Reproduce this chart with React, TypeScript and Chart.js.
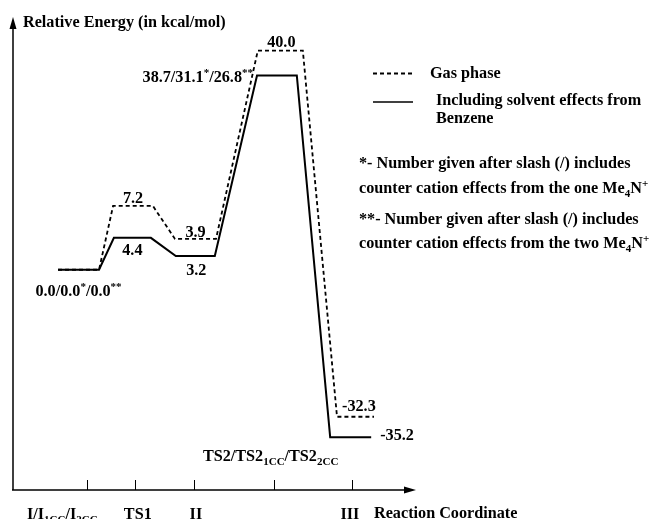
import React, { useEffect, useRef } from "react";
import { Chart, registerables } from "chart.js";
Chart.register(...registerables);

// Stationary points along the reaction coordinate
const stageNames = ["I/I1CC/I2CC", "TS1", "II", "TS2/TS21CC/TS22CC", "III"];
// Labelled relative energies (kcal/mol)
const gasLabels = ["0.0", "7.2", "3.9", "40.0", "-32.3"];
const solventLabels = ["0.0/0.0*/0.0**", "4.4", "3.2", "38.7/31.1*/26.8**", "-35.2"];
// Schematic level heights as drawn (the diagram is not to scale)
const gasLevels = [0, 11.6, 5.6, 39.8, -26.7];
const solventLevels = [0, 5.8, 2.5, 35.3, -30.4];
// Level extents along the reaction coordinate (0-100)
const gasFrom = [11.2, 24.9, 40.3, 60.9, 80.6];
const gasTo = [21.4, 34.8, 50.5, 72.1, 89.8];
const solFrom = [11.2, 25.1, 40.5, 60.7, 78.9];
const solTo = [21.4, 34.3, 50.2, 70.6, 89.1];
// Tick marks on the reaction-coordinate axis
const tickPositions = [18.4, 30.3, 45.0, 64.9, 84.3];

const FONT = '"Liberation Serif", "Times New Roman", serif';
const SIZE = 16.2;

type Part = [string, number]; // 0 normal, 1 subscript, 2 superscript

function rich(ctx: CanvasRenderingContext2D, parts: Part[], x: number, y: number, align: string, size = SIZE) {
  const F = `bold ${size}px ${FONT}`;
  const S = `bold ${Math.round(size * 0.68)}px ${FONT}`;
  let w = 0;
  for (const [t, k] of parts) {
    ctx.font = k ? S : F;
    w += ctx.measureText(t).width;
  }
  let cx = align === "center" ? x - w / 2 : align === "right" ? x - w : x;
  ctx.textAlign = "left";
  ctx.textBaseline = "alphabetic";
  for (const [t, k] of parts) {
    ctx.font = k ? S : F;
    ctx.fillText(t, cx, y + (k === 1 ? 4 : k === 2 ? -6 : 0));
    cx += ctx.measureText(t).width;
  }
}

function levelPoints(from: number[], to: number[], lv: number[]) {
  const pts: { x: number; y: number }[] = [];
  lv.forEach((v, i) => {
    pts.push({ x: from[i], y: v });
    pts.push({ x: to[i], y: v });
  });
  return pts;
}

const overlay = {
  id: "overlay",
  afterDraw(chart: any) {
    const ctx: CanvasRenderingContext2D = chart.ctx;
    const xs = chart.scales.x;
    const ys = chart.scales.y;
    const x0 = xs.getPixelForValue(0);
    const xEnd = xs.getPixelForValue(100);
    const yB = ys.getPixelForValue(-40);
    const yT = ys.getPixelForValue(45);
    ctx.save();
    ctx.strokeStyle = "#000";
    ctx.fillStyle = "#000";
    ctx.setLineDash([]);
    // axes
    ctx.lineWidth = 1.5;
    ctx.beginPath();
    ctx.moveTo(x0, yB);
    ctx.lineTo(x0, yT + 6);
    ctx.moveTo(x0 - 1, yB);
    ctx.lineTo(xEnd - 8, yB);
    ctx.stroke();
    ctx.beginPath();
    ctx.moveTo(x0, yT - 5);
    ctx.lineTo(x0 - 3.5, yT + 7);
    ctx.lineTo(x0 + 3.5, yT + 7);
    ctx.closePath();
    ctx.fill();
    ctx.beginPath();
    ctx.moveTo(xEnd + 1, yB);
    ctx.lineTo(xEnd - 11, yB - 3.5);
    ctx.lineTo(xEnd - 11, yB + 3.5);
    ctx.closePath();
    ctx.fill();
    // ticks
    ctx.lineWidth = 1;
    ctx.beginPath();
    tickPositions.forEach((t) => {
      const px = Math.round(xs.getPixelForValue(t)) + 0.5;
      ctx.moveTo(px, yB - 10);
      ctx.lineTo(px, yB);
    });
    ctx.stroke();

    // axis titles
    rich(ctx, [["Relative Energy (in kcal/mol)", 0]], x0 + 10, 27, "left");
    rich(ctx, [["Reaction Coordinate", 0]], xEnd - 41, 518, "left");

    // stage labels under the axis
    const tp = tickPositions.map((t) => xs.getPixelForValue(t));
    rich(ctx, [["I/I", 0], ["1CC", 1], ["/I", 0], ["2CC", 1]], tp[0] - 60, 519, "left");
    rich(ctx, [[stageNames[1], 0]], tp[1] + 3, 519, "center");
    rich(ctx, [[stageNames[2], 0]], tp[2] + 2, 519, "center");
    rich(ctx, [[stageNames[4], 0]], tp[4] - 2, 519, "center");
    rich(ctx, [["TS2/TS2", 0], ["1CC", 1], ["/TS2", 0], ["2CC", 1]], tp[3] - 71, 461, "left");

    // energy labels
    const cx = (a: number, b: number) => (xs.getPixelForValue(a) + xs.getPixelForValue(b)) / 2;
    const py = (v: number) => ys.getPixelForValue(v);
    rich(ctx, [["0.0/0.0", 0], ["*", 2], ["/0.0", 0], ["**", 2]], cx(solFrom[0], solTo[0]), py(solventLevels[0]) + 26, "center");
    rich(ctx, [[gasLabels[1], 0]], cx(gasFrom[1], gasTo[1]), py(gasLevels[1]) - 3, "center");
    rich(ctx, [[solventLabels[1], 0]], cx(solFrom[1], solTo[1]), py(solventLevels[1]) + 17, "center");
    rich(ctx, [[gasLabels[2], 0]], cx(gasFrom[2], gasTo[2]), py(gasLevels[2]) - 2, "center");
    rich(ctx, [[solventLabels[2], 0]], cx(solFrom[2], solTo[2]) + 1, py(solventLevels[2]) + 19, "center");
    rich(ctx, [[gasLabels[3], 0]], cx(gasFrom[3], gasTo[3]) + 1, py(gasLevels[3]) - 4, "center");
    rich(ctx, [["38.7/31.1", 0], ["*", 2], ["/26.8", 0], ["**", 2]], xs.getPixelForValue(solFrom[3]) - 4, py(solventLevels[3]) + 7, "right");
    rich(ctx, [[gasLabels[4], 0]], xs.getPixelForValue(gasFrom[4]) + 5, py(gasLevels[4]) - 6, "left");
    rich(ctx, [[solventLabels[4], 0]], xs.getPixelForValue(solTo[4]) + 9, py(solventLevels[4]) + 3, "left");

    // legend
    ctx.lineWidth = 1.8;
    ctx.setLineDash([4, 3]);
    ctx.beginPath();
    ctx.moveTo(373, 73.5);
    ctx.lineTo(414, 73.5);
    ctx.stroke();
    ctx.setLineDash([]);
    ctx.lineWidth = 1.6;
    ctx.beginPath();
    ctx.moveTo(373, 102);
    ctx.lineTo(413, 102);
    ctx.stroke();
    rich(ctx, [["Gas phase", 0]], 430, 78, "left");
    rich(ctx, [["Including solvent effects from", 0]], 436, 105, "left");
    rich(ctx, [["Benzene", 0]], 436, 123, "left");

    // notes
    rich(ctx, [["*- Number given after slash (/) includes", 0]], 359, 168, "left");
    rich(ctx, [["counter cation effects from the one Me", 0], ["4", 1], ["N", 0], ["+", 2]], 359, 193, "left");
    rich(ctx, [["**- Number given after slash (/) includes", 0]], 359, 224, "left");
    rich(ctx, [["counter cation effects from the two Me", 0], ["4", 1], ["N", 0], ["+", 2]], 359, 248, "left");
    ctx.restore();
  },
};

export default function App() {
  const ref = useRef<HTMLCanvasElement>(null);
  useEffect(() => {
    if (!ref.current) return;
    const chart = new Chart(ref.current, {
      type: "line",
      data: {
        datasets: [
          {
            label: "Gas phase",
            data: levelPoints(gasFrom, gasTo, gasLevels),
            borderColor: "#000",
            borderWidth: 1.8,
            borderDash: [4, 3],
            pointRadius: 0,
            tension: 0,
            fill: false,
            clip: false as any,
            order: 1,
          },
          {
            label: "Including solvent effects from Benzene",
            data: levelPoints(solFrom, solTo, solventLevels),
            borderColor: "#000",
            borderWidth: 2,
            pointRadius: 0,
            tension: 0,
            fill: false,
            clip: false as any,
            order: 0,
          },
        ],
      },
      options: {
        animation: false,
        responsive: false,
        devicePixelRatio: 1,
        layout: { padding: { left: 13, right: 237, top: 22, bottom: 29 } },
        plugins: { legend: { display: false }, tooltip: { enabled: false } },
        scales: {
          x: { type: "linear", min: 0, max: 100, display: false },
          y: { type: "linear", min: -40, max: 45, display: false },
        },
      },
      plugins: [overlay],
    });
    return () => chart.destroy();
  }, []);
  return (
    <div style={{ position: "fixed", left: 0, top: 0, width: 652, height: 519, background: "#fff" }}>
      <canvas ref={ref} width={652} height={519} style={{ width: 652, height: 519, display: "block" }} />
    </div>
  );
}
